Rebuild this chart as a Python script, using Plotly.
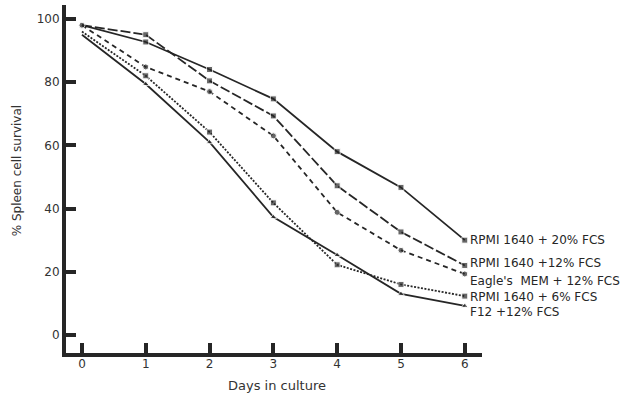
import plotly.graph_objects as go

days = [0, 1, 2, 3, 4, 5, 6]
rpmi20 = [98, 92.7, 84, 74.7, 58, 46.7, 30]
rpmi12 = [98, 95, 80.4, 69.3, 47.2, 32.6, 22]
eagle = [98, 84.8, 77, 63, 38.8, 26.8, 19.3]
rpmi6 = [96, 82, 64.2, 41.8, 22.2, 16, 12.3]
f12 = [95, 79.4, 61, 37.3, 25.3, 13, 9.2]

labels = ["RPMI 1640 + 20% FCS", "RPMI 1640 +12% FCS", "Eagle's  MEM + 12% FCS",
          "RPMI 1640 + 6% FCS", "F12 +12% FCS"]
x_ticks = [0, 1, 2, 3, 4, 5, 6]
y_ticks = [0, 20, 40, 60, 80, 100]

series = [rpmi20, rpmi12, eagle, rpmi6, f12]
dashes = ["solid", "10px,3px", "5px,4px", "2px,1.5px", "solid"]
symbols = ["square", "square", "circle", "square", "triangle-up"]
first_visible = [False, False, True, False, False]
label_shift = [0, 2, -7, -1, -6]

ink = "#262626"
FONT = "DejaVu Sans, Verdana, sans-serif"
fig = go.Figure()
for vals, name, dash, sym, fv in zip(series, labels, dashes, symbols, first_visible):
    sizes = [6 if fv else 0] + [6] * (len(vals) - 1)
    fig.add_trace(go.Scatter(
        x=days, y=vals, mode="lines+markers", name=name,
        line=dict(color=ink, width=1.8, dash=dash),
        marker=dict(symbol=sym, size=sizes, color=ink),
        showlegend=False, hoverinfo="skip",
    ))

for vals, name, ys in zip(series, labels, label_shift):
    fig.add_annotation(x=days[-1], y=vals[-1], text=name, showarrow=False,
                       xanchor="left", yanchor="middle", xshift=3, yshift=ys,
                       font=dict(family=FONT, size=12, color=ink))

fig.add_annotation(text="% Spleen cell survival", xref="paper", yref="paper",
                   x=-0.117, y=0.523, textangle=-90, showarrow=False,
                   xanchor="center", yanchor="middle",
                   font=dict(family=FONT, size=12, color="#333"))
fig.add_annotation(text="Days in culture", xref="paper", yref="paper",
                   x=0.508, y=-0.093, showarrow=False,
                   xanchor="center", yanchor="middle",
                   font=dict(family=FONT, size=13, color="#333"))

fig.update_layout(
    width=641, height=393,
    margin=dict(l=66, r=159, t=5, b=40),
    paper_bgcolor="white", plot_bgcolor="white",
    hovermode=False,
    font=dict(family=FONT, size=12, color="#333"),
    xaxis=dict(range=[-0.25, 6.27], tickvals=x_ticks, ticks="inside", ticklen=10,
               tickwidth=4, tickcolor=ink, showline=True, linewidth=4, linecolor=ink,
               showgrid=False, zeroline=False, automargin=False, ticklabelstandoff=-3),
    yaxis=dict(range=[-5.7, 104.4], tickvals=y_ticks, ticks="inside", ticklen=10,
               tickwidth=4, tickcolor=ink, showline=True, linewidth=4, linecolor=ink,
               showgrid=False, zeroline=False, automargin=False, ticklabelstandoff=0),
)

fig.write_html("out.html", config={"displayModeBar": False},
               post_script="document.body.style.margin='0';")
